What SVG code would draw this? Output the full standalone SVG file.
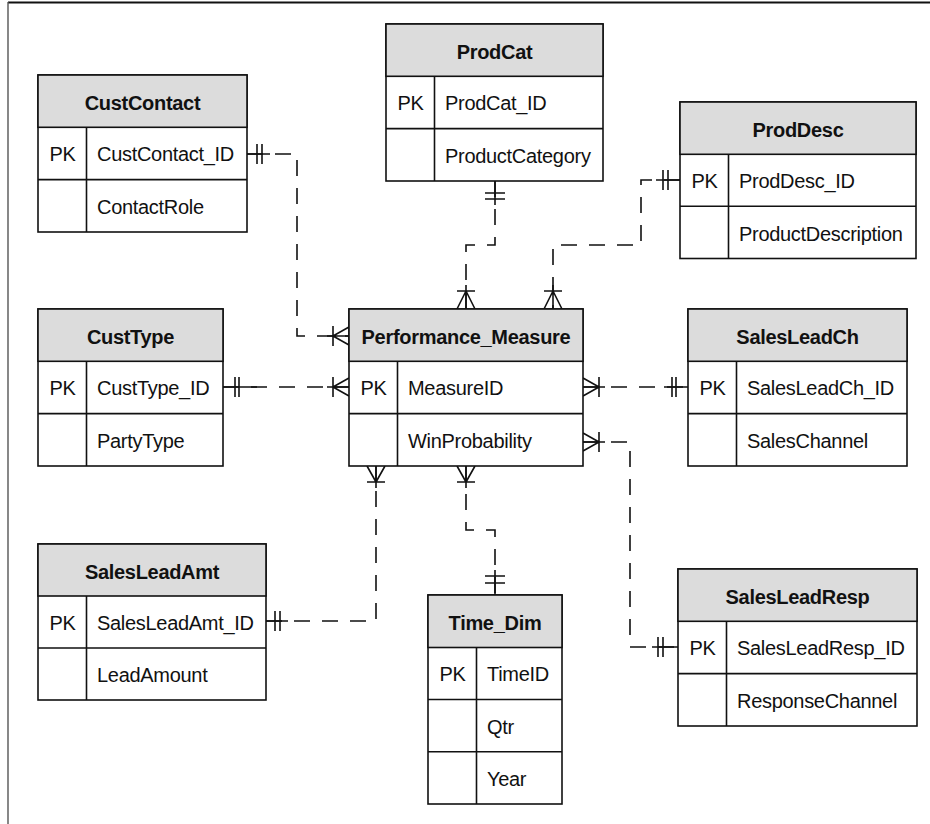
<svg xmlns="http://www.w3.org/2000/svg" width="930" height="824" viewBox="0 0 930 824">
<style>
.box{fill:#fff;stroke:#111;stroke-width:1.6}
.hdr{fill:#dcdcdc;stroke:#111;stroke-width:1.6}
.ln{stroke:#111;stroke-width:1.6;fill:none}
.t{font-family:"Liberation Sans",Arial,sans-serif;font-size:20px;letter-spacing:-0.3px;fill:#111}
.h{font-family:"Liberation Sans",Arial,sans-serif;font-size:20px;letter-spacing:-0.3px;font-weight:bold;fill:#111;text-anchor:middle}
.dash{stroke:#111;stroke-width:1.6;fill:none;stroke-dasharray:16 12}
.mk{stroke:#111;stroke-width:1.6;fill:none}
</style>
<rect x="0" y="0" width="930" height="824" fill="#fff"/>
<line x1="8" y1="2.5" x2="930" y2="2.5" stroke="#111" stroke-width="2"/>
<line x1="8" y1="2" x2="8" y2="824" stroke="#555" stroke-width="1.4"/>

<g id="connectors">
<path class="dash" d="M247,154 H297 V336 H349"/>
<path class="dash" d="M495,181 V245 H466 V309"/>
<path class="dash" d="M680,180 H641 V245 H553 V309"/>
<path class="dash" d="M223,387 H349"/>
<path class="dash" d="M583,387 H688"/>
<path class="dash" d="M583,442 H630 V647 H678"/>
<path class="dash" d="M266,621 H376 V466"/>
<path class="dash" d="M466,466 V530 H495 V595"/>
<path class="mk" d="M247,154 H270 M257,144 V164 M262,144 V164"/>
<path class="mk" d="M327,336 H349 M333,326 V346 M333,336 L349,327 M333,336 L349,345"/>
<path class="mk" d="M495,181 V205 M485,193 H505 M485,199 H505"/>
<path class="mk" d="M466,285 V309 M457,291 H475 M466,291 L457,309 M466,291 L475,309"/>
<path class="mk" d="M680,180 H656 M663,170 V190 M668,170 V190"/>
<path class="mk" d="M553,285 V309 M544,291 H562 M553,291 L544,309 M553,291 L562,309"/>
<path class="mk" d="M223,387 H257 M235,377 V397 M239,377 V397"/>
<path class="mk" d="M327,387 H349 M333,377 V397 M333,387 L349,378 M333,387 L349,396"/>
<path class="mk" d="M583,387 H605 M599,377 V397 M599,387 L583,378 M599,387 L583,396"/>
<path class="mk" d="M688,387 H664 M672,377 V397 M676,377 V397"/>
<path class="mk" d="M583,442 H605 M599,432 V452 M599,442 L583,433 M599,442 L583,451"/>
<path class="mk" d="M678,647 H652 M658,637 V657 M663,637 V657"/>
<path class="mk" d="M266,621 H288 M275,611 V631 M280,611 V631"/>
<path class="mk" d="M376,466 V488 M367,482 H385 M376,482 L367,466 M376,482 L385,466"/>
<path class="mk" d="M466,466 V488 M457,482 H475 M466,482 L457,466 M466,482 L475,466"/>
<path class="mk" d="M495,595 V570 M485,576 H505 M485,583 H505"/>
</g>

<g id="CustContact">
<rect class="box" x="38" y="75" width="209" height="157"/>
<rect class="hdr" x="38" y="75" width="209" height="52.3"/>
<path class="ln" d="M38,179.6 H247 M86.5,127.3 V232"/>
<text class="h" x="142.5" y="109.5">CustContact</text>
<text class="t" x="49.5" y="161">PK</text>
<text class="t" x="97" y="161">CustContact_ID</text>
<text class="t" x="97" y="213.5">ContactRole</text>
</g>

<g id="ProdCat">
<rect class="box" x="386" y="24" width="217" height="157"/>
<rect class="hdr" x="386" y="24" width="217" height="52.3"/>
<path class="ln" d="M386,128.6 H603 M434.5,76.3 V181"/>
<text class="h" x="494.5" y="58.5">ProdCat</text>
<text class="t" x="397.5" y="110">PK</text>
<text class="t" x="445" y="110">ProdCat_ID</text>
<text class="t" x="445" y="162.5">ProductCategory</text>
</g>

<g id="ProdDesc">
<rect class="box" x="680" y="102" width="236" height="156.5"/>
<rect class="hdr" x="680" y="102" width="236" height="52.3"/>
<path class="ln" d="M680,206.3 H916 M728.5,154.3 V258.5"/>
<text class="h" x="798" y="136.5">ProdDesc</text>
<text class="t" x="691.5" y="188">PK</text>
<text class="t" x="739" y="188">ProdDesc_ID</text>
<text class="t" x="739" y="240.5">ProductDescription</text>
</g>

<g id="CustType">
<rect class="box" x="38" y="309" width="185" height="157"/>
<rect class="hdr" x="38" y="309" width="185" height="52.3"/>
<path class="ln" d="M38,413.6 H223 M86.5,361.3 V466"/>
<text class="h" x="130.5" y="343.5">CustType</text>
<text class="t" x="49.5" y="395">PK</text>
<text class="t" x="97" y="395">CustType_ID</text>
<text class="t" x="97" y="447.5">PartyType</text>
</g>

<g id="Performance_Measure">
<rect class="box" x="349" y="309" width="234" height="157"/>
<rect class="hdr" x="349" y="309" width="234" height="52.3"/>
<path class="ln" d="M349,413.6 H583 M397.5,361.3 V466"/>
<text class="h" x="466" y="343.5">Performance_Measure</text>
<text class="t" x="360.5" y="395">PK</text>
<text class="t" x="408" y="395">MeasureID</text>
<text class="t" x="408" y="447.5">WinProbability</text>
</g>

<g id="SalesLeadCh">
<rect class="box" x="688" y="309" width="219" height="157"/>
<rect class="hdr" x="688" y="309" width="219" height="52.3"/>
<path class="ln" d="M688,413.6 H907 M736.5,361.3 V466"/>
<text class="h" x="797.5" y="343.5">SalesLeadCh</text>
<text class="t" x="699.5" y="395">PK</text>
<text class="t" x="747" y="395">SalesLeadCh_ID</text>
<text class="t" x="747" y="447.5">SalesChannel</text>
</g>

<g id="SalesLeadAmt">
<rect class="box" x="38" y="544" width="228" height="156"/>
<rect class="hdr" x="38" y="544" width="228" height="52"/>
<path class="ln" d="M38,648 H266 M86.5,596 V700"/>
<text class="h" x="152" y="578.5">SalesLeadAmt</text>
<text class="t" x="49.5" y="629.5">PK</text>
<text class="t" x="97" y="629.5">SalesLeadAmt_ID</text>
<text class="t" x="97" y="681.5">LeadAmount</text>
</g>

<g id="Time_Dim">
<rect class="box" x="428" y="595" width="134" height="209"/>
<rect class="hdr" x="428" y="595" width="134" height="52.5"/>
<path class="ln" d="M428,699.5 H562 M428,751.8 H562 M476.5,647.5 V804"/>
<text class="h" x="495" y="629.5">Time_Dim</text>
<text class="t" x="439.5" y="681">PK</text>
<text class="t" x="487" y="681">TimeID</text>
<text class="t" x="487" y="733.5">Qtr</text>
<text class="t" x="487" y="785.5">Year</text>
</g>

<g id="SalesLeadResp">
<rect class="box" x="678" y="569" width="239" height="157"/>
<rect class="hdr" x="678" y="569" width="239" height="52.3"/>
<path class="ln" d="M678,673.6 H917 M726.5,621.3 V726"/>
<text class="h" x="797.5" y="603.5">SalesLeadResp</text>
<text class="t" x="689.5" y="655">PK</text>
<text class="t" x="737" y="655">SalesLeadResp_ID</text>
<text class="t" x="737" y="707.5">ResponseChannel</text>
</g>
</svg>
